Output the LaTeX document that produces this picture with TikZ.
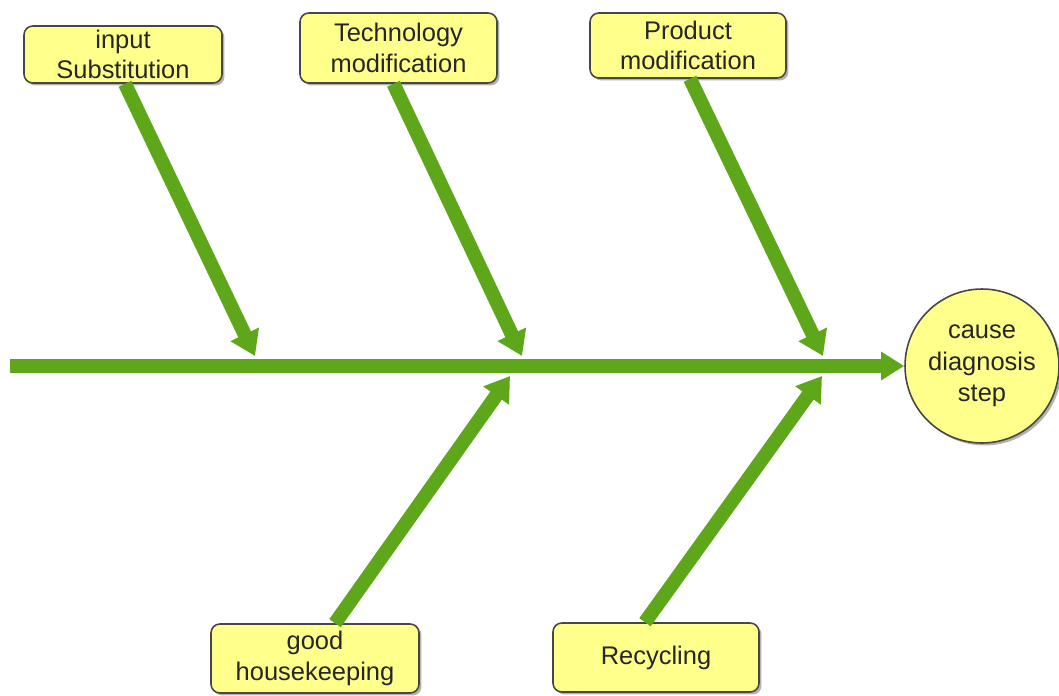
\documentclass[tikz,border=0pt]{standalone}
\usepackage{fontspec}
\setmainfont{Liberation Sans}
\usetikzlibrary{arrows.meta,shadows}

\definecolor{bonegreen}{RGB}{94,166,26}
\definecolor{boxyellow}{RGB}{255,255,140}
\definecolor{boxline}{RGB}{70,70,70}

\tikzset{
  cause/.style={draw=boxline, line width=0.9pt, fill=boxyellow, rounded corners=5pt,
    align=center, text=black!85, inner sep=2pt,
    font=\fontsize{14.5}{17.5}\selectfont,
    drop shadow={shadow xshift=0.05cm, shadow yshift=-0.05cm, fill=black, opacity=0.3}},
  effect/.style={cause, circle, rounded corners=0pt, minimum size=3.08cm,
    font=\fontsize{14.5}{18}\selectfont},
  bone/.style={draw=bonegreen, line width=0.28cm,
    -{Triangle[length=0.48cm,width=0.6cm]}},
  spine/.style={bone, line width=0.28cm}
}

\begin{document}
\begin{tikzpicture}[x=0.02cm,y=-0.02cm]

\useasboundingbox (0,0) rectangle (1059,696);

% Causes
\node[cause, minimum width=3.96cm, minimum height=1.14cm] (input) at (123,54.5) {input\\Substitution};
\node[cause, minimum width=3.94cm, minimum height=1.40cm] (tech)  at (398.5,48) {Technology\\modification};
\node[cause, minimum width=3.92cm, minimum height=1.30cm] (prod)  at (688,45.5) {Product\\modification};
\node[cause, minimum width=4.16cm, minimum height=1.38cm] (house) at (315,658.5) {good\\housekeeping};
\node[cause, minimum width=4.12cm, minimum height=1.38cm] (recyc) at (656,657.5) {Recycling};

% Effect
\node[effect] (diag) at (982,366) {cause\\diagnosis\\step};

% Spine
\coordinate (tail) at (10,366);
\draw[spine, -{Triangle[length=0.46cm,width=0.54cm]}] (tail) -- (diag.west);

% Tips on the spine
\coordinate (t1) at (255,356);
\coordinate (t2) at (522,356);
\coordinate (t3) at (823,356);
\coordinate (t4) at (510,376);
\coordinate (t5) at (822,376);

% Bones
\draw[bone] ([xshift=0.04cm]input.south) -- (t1);
\draw[bone] ([xshift=-0.1cm]tech.south) -- (t2);
\draw[bone] ([xshift=0.04cm]prod.south) -- (t3);
\draw[bone] ([xshift=0.4cm]house.north) -- (t4);
\draw[bone] ([xshift=-0.22cm]recyc.north) -- (t5);

\end{tikzpicture}
\end{document}
